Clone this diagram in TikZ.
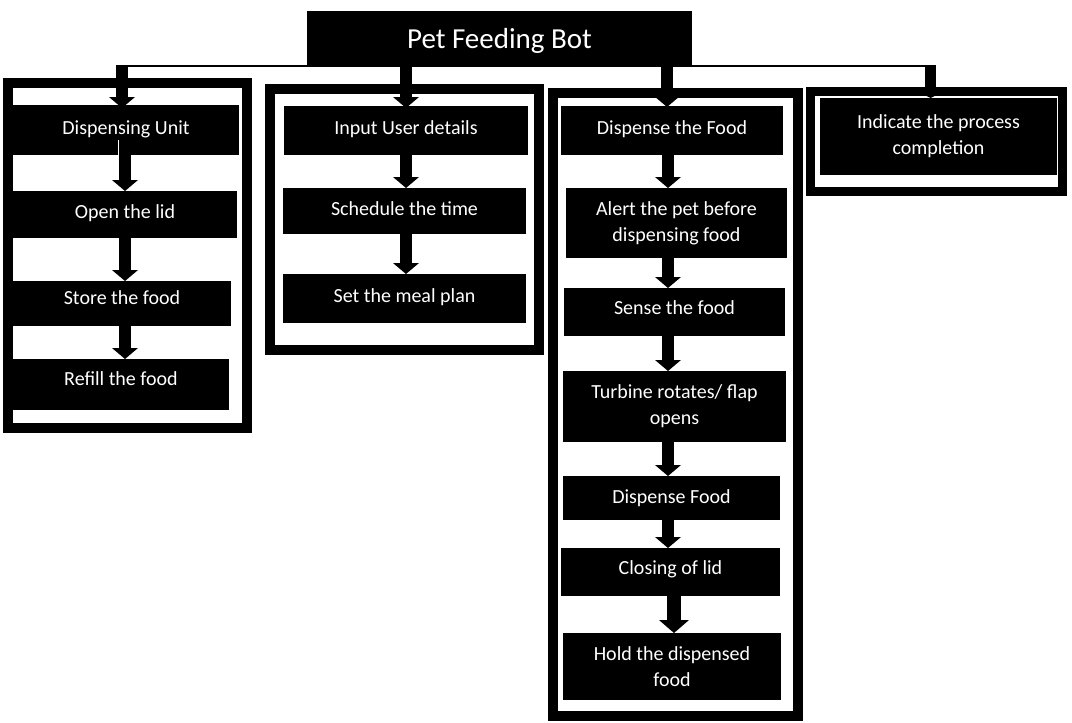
\documentclass[tikz,border=0pt]{standalone}
\usepackage{fontspec}
\setmainfont{Carlito}
\usetikzlibrary{arrows.meta}
\newcommand\mybox[6]{\node[box,minimum width={(#4)-(#2)},minimum height={(#5)-(#3)}] (#1) at ({((#2)+(#4))/2},{((#3)+(#5))/2}) {#6};}
\newcommand\up[2]{\raisebox{#1}[\height][\depth]{#2}}
\begin{document}
\begin{tikzpicture}[x=1pt,y=-1pt,
  box/.style={fill=black,text=white,inner sep=0pt,outer sep=0pt,align=center,font=\fontsize{20}{26}\selectfont},
  frm/.style={draw=black,line width=10pt},
  blk/.style={line width=12pt,-{Triangle[width=26pt,length=11pt,line width=0pt]}},
  bigblk/.style={line width=14pt,-{Triangle[width=30pt,length=13pt,line width=0pt]}},
]
\useasboundingbox (0,0) rectangle (1072,723);
% frames
\draw[frm] (8,83) rectangle (247,428);
\draw[frm] (270,89) rectangle (539,350);
\draw[frm] (553,93) rectangle (798,716);
\draw[frm,line width=9pt] (810.5,91.5) rectangle (1062.5,191.5);
% title
\node[box,font=\fontsize{29}{34}\selectfont,minimum width=385,minimum height=56] (title) at (499.5,39) {\up{-2pt}{Pet Feeding Bot}};
% column 1
\mybox{d1}{13}{105}{239}{155}{\up{1pt}{Dispensing Unit}}
\mybox{o1}{13}{191}{237}{238}{\up{1pt}{Open the lid}}
\mybox{s1}{13}{281}{231}{326}{\up{6pt}{Store the food}}
\mybox{r1}{13}{359}{229}{410}{\up{6pt}{Refill the food}}
% column 2
\mybox{i2}{284}{106}{528}{155}{\up{1pt}{Input User details}}
\mybox{t2}{283}{188}{526}{234}{\up{2pt}{Schedule the time}}
\mybox{m2}{283}{274}{526}{323}{\up{1pt}{Set the meal plan}}
% column 3
\mybox{df}{561}{106}{783}{155}{\up{1pt}{Dispense the Food}}
\mybox{al}{566}{188}{787}{258}{Alert the pet before\\dispensing food}
\mybox{sf}{564}{288}{785}{336}{\up{4pt}{Sense the food}}
\mybox{tr}{563}{371}{786}{442}{Turbine rotates/ flap\\opens}
\mybox{dfo}{563}{476}{780}{520}{Dispense Food}
\mybox{cl}{561}{548}{780}{596}{\up{3pt}{Closing of lid}}
\mybox{hd}{563}{633}{781}{700}{Hold the dispensed\\food}
% column 4
\mybox{c4}{820}{98}{1057}{175}{Indicate the process\\completion}
% coordinates
\coordinate (bus) at (0,66);
\coordinate (a1) at (122,0);
\coordinate (a2) at (406,0);
\coordinate (a3) at (667,0);
\coordinate (a4) at (930.5,0);
\coordinate (b1) at (125,0);
\coordinate (b3) at (668,0);
\coordinate (b3l) at (674,0);
\coordinate (wl) at (118.5,140);
% bus
\draw[line width=2.2pt] (bus -| a1) -- (bus -| a4);
\draw[blk] ([yshift=1pt]bus -| a1) -- ([yshift=-3pt]d1.north -| a1);
\draw[blk] ([yshift=1pt]bus -| a2) -- ([yshift=-2pt]i2.north -| a2);
\draw[blk] ([yshift=1pt]bus -| a3) -- ([yshift=-1pt]df.north -| a3);
\draw[line width=11pt,-{Triangle[width=12pt,length=3pt,line width=0pt]}] ([yshift=1pt]bus -| a4) -- (c4.north -| a4);
% column 1 arrows
\draw[white,line width=0.8pt] (wl) -- (wl |- d1.south);
\draw[blk] (d1.south -| b1) -- (o1.north -| b1);
\draw[blk] ([yshift=5pt]o1.south -| b1) -- (s1.north -| b1);
\draw[blk] ([yshift=5pt]s1.south -| b1) -- (r1.north -| b1);
% column 2 arrows
\draw[blk] (i2.south -| a2) -- (t2.north -| a2);
\draw[blk] ([yshift=3pt]t2.south -| a2) -- (m2.north -| a2);
% column 3 arrows
\draw[blk] (df.south -| b3) -- (al.north -| b3);
\draw[blk] (al.south -| b3) -- (sf.north -| b3);
\draw[blk] (sf.south -| b3) -- (tr.north -| b3);
\draw[blk] ([yshift=5pt]tr.south -| b3) -- (dfo.north -| b3);
\draw[blk] (dfo.south -| b3) -- (cl.north -| b3);
\draw[bigblk] ([yshift=2pt]cl.south -| b3l) -- (hd.north -| b3l);
\end{tikzpicture}
\end{document}
